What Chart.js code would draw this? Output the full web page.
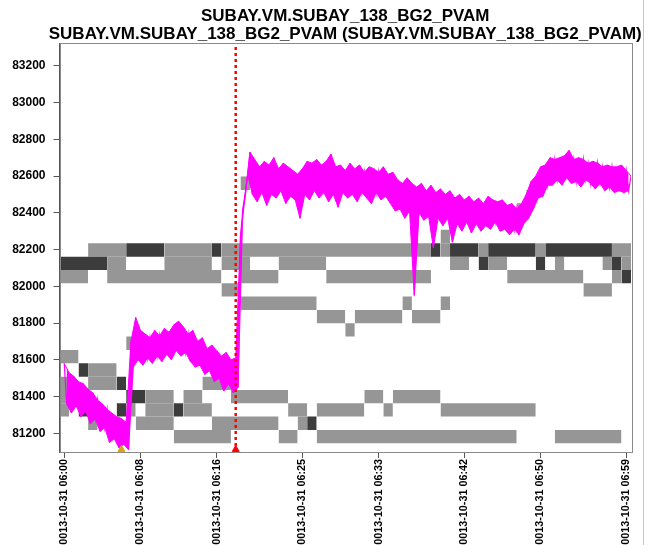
<!DOCTYPE html>
<html>
<head>
<meta charset="utf-8">
<script src="https://cdn.jsdelivr.net/npm/chart.js@4.4.0/dist/chart.umd.min.js"></script>
<style>
  html, body { margin: 0; padding: 0; background: #fff; overflow: hidden; }
  #wrap { width: 653px; height: 545px; overflow: hidden; }
  canvas { display: block; }
</style>
</head>
<body>
<div id="wrap"><canvas id="chart-trace" width="653" height="560"></canvas></div>
<script>
const titleLines = [
    'SUBAY.VM.SUBAY_138_BG2_PVAM',
    'SUBAY.VM.SUBAY_138_BG2_PVAM (SUBAY.VM.SUBAY_138_BG2_PVAM)'
];

// x is minutes after 06:00
const xTickMinutes = [0, 8, 16, 25, 33, 42, 50, 59];
const xTickLabels = [
    '0013-10-31 06:00', '0013-10-31 06:08', '0013-10-31 06:16', '0013-10-31 06:25',
    '0013-10-31 06:33', '0013-10-31 06:42', '0013-10-31 06:50', '0013-10-31 06:59'
];
const yTicks = [81200, 81400, 81600, 81800, 82000, 82200, 82400, 82600, 82800, 83000, 83200];
const yMin = 81098;
const yMax = 83324;

// PVAM trace, one reading every 15 seconds (peaks and troughs of the noise alternate)
const traceStart = 0;
const traceStep = 0.25;
const traceValues = [
    81580, 81360, 81530, 81310, 81510, 81350, 81480, 81290,
    81470, 81320, 81440, 81250, 81420, 81280, 81380, 81210,
    81360, 81230, 81330, 81150, 81310, 81170, 81290, 81120,
    81280, 81140, 81260, 81110,
    81700, 81560, 81830, 81600, 81760, 81570, 81740, 81610,
    81720, 81580, 81760, 81620, 81730, 81590, 81770, 81630,
    81750, 81600, 81790, 81650, 81810, 81620, 81780, 81640,
    81740, 81590, 81760, 81560, 81700, 81570, 81720, 81520,
    81660, 81540, 81680, 81480, 81650, 81500, 81620, 81430,
    81640, 81470, 81600, 81420, 81610, 81450,
    82270, 82420, 82490, 82610, 82730, 82500,
    82690, 82460, 82650, 82510, 82680, 82440, 82660, 82500,
    82700, 82480, 82640, 82520, 82670, 82450, 82650, 82490,
    82630, 82470, 82610, 82370, 82640, 82500, 82680, 82470,
    82670, 82520, 82690, 82480, 82660, 82510, 82680, 82460,
    82720, 82500, 82650, 82430, 82660, 82510, 82630, 82480,
    82670, 82500, 82640, 82460, 82660, 82510, 82620, 82480,
    82650, 82450, 82640, 82510, 82620, 82470, 82650, 82490,
    82610, 82450, 82620, 82410, 82580, 82420, 82560, 82370,
    82590, 82410, 82560, 81950, 82540, 82400, 82560, 82360,
    82520, 82380, 82550, 82210, 82510, 82370, 82530, 82330,
    82500, 82370, 82520, 82240, 82480, 82340, 82500, 82300,
    82470, 82350, 82490, 82290, 82460, 82340, 82480, 82300,
    82450, 82330, 82490, 82310, 82470, 82350, 82460, 82300,
    82470, 82310, 82440, 82280, 82450, 82310, 82420, 82280,
    82450, 82340, 82500, 82370, 82570, 82420, 82600, 82480,
    82650, 82490, 82660, 82550, 82700, 82550, 82690, 82580,
    82700, 82550, 82710, 82590, 82740, 82560, 82690, 82570,
    82700, 82540, 82690, 82580, 82670, 82560, 82680, 82530,
    82670, 82560, 82650, 82520, 82660, 82540, 82650, 82510,
    82650, 82520, 82660, 82510, 82630, 82520, 82600
];

// value bins of the state map
const binEdges = [
    81146, 81218, 81291, 81363, 81436, 81508, 81581, 81653, 81726, 81799, 81871, 81944,
    82016, 82089, 82161, 82234, 82307, 82379, 82452, 82524, 82597, 82669, 82742
];

// [bin, first minute, last minute]
const greyCells = [
    [14, 3, 6], [14, 11, 15], [14, 17, 38], [14, 40, 40], [14, 44, 44], [14, 50, 50], [14, 58, 59],
    [13, 5, 6], [13, 11, 15], [13, 17, 19], [13, 23, 27], [13, 41, 42], [13, 45, 46], [13, 52, 52], [13, 57, 57], [13, 59, 59],
    [12, 0, 2], [12, 5, 16], [12, 19, 22], [12, 28, 38], [12, 47, 54], [12, 58, 58],
    [11, 17, 18], [11, 55, 57],
    [10, 19, 26], [10, 36, 36], [10, 40, 40],
    [9, 27, 29], [9, 31, 35], [9, 37, 39],
    [8, 30, 30],
    [7, 7, 7],
    [6, 0, 1],
    [5, 3, 5],
    [4, 0, 0], [4, 3, 5], [4, 15, 17],
    [3, 0, 0], [3, 9, 11], [3, 13, 14], [3, 18, 23], [3, 32, 33], [3, 35, 39],
    [2, 0, 0], [2, 7, 7], [2, 9, 11], [2, 13, 15], [2, 24, 25], [2, 27, 31], [2, 34, 34], [2, 40, 49],
    [1, 3, 3], [1, 8, 11], [1, 16, 22], [1, 25, 25],
    [0, 12, 17], [0, 23, 24], [0, 27, 47], [0, 52, 58],
    [15, 40, 40], [17, 48, 48], [18, 49, 49], [19, 19, 19], [19, 50, 50], [20, 51, 51]
];
const darkCells = [
    [14, 7, 10], [14, 16, 16], [14, 39, 39], [14, 41, 43], [14, 45, 49], [14, 51, 57],
    [13, 0, 4], [13, 44, 44], [13, 50, 50], [13, 58, 58],
    [12, 59, 59],
    [5, 2, 2],
    [4, 6, 6],
    [3, 7, 8],
    [2, 2, 2], [2, 6, 6], [2, 12, 12],
    [1, 26, 26]
];

const eventMinute = 18;
const markerMinutes = [6, 18];
const markerValue = 81112;
const markerColors = ['#d9a21b', '#ff0000'];

const fontFamily = "Arial, 'Liberation Sans', Helvetica, sans-serif";
const magenta = '#ff00ff';

function cellDataset([bin, first, last], color) {
    return {
        data: [{ x: first - 0.5, y: binEdges[bin + 1] }, { x: last + 0.5, y: binEdges[bin + 1] }],
        fill: { value: binEdges[bin] },
        backgroundColor: color,
        borderWidth: 0,
        pointRadius: 0,
        order: 3
    };
}

const tracePoints = traceValues.map((v, i) => ({ x: traceStart + i * traceStep, y: v }));
const tracePeaks = tracePoints.filter((p, i) => i % 2 === 0);
const traceTroughs = tracePoints.filter((p, i) => i % 2 === 1);

const datasets = [
    {
        data: [{ x: eventMinute, y: yMin }, { x: eventMinute, y: yMax }],
        borderColor: '#ff0000',
        borderWidth: 2.5,
        borderDash: [3, 3],
        pointRadius: 0,
        fill: false,
        order: 0
    },
    {
        data: markerMinutes.map((m) => ({ x: m, y: markerValue })),
        showLine: false,
        pointStyle: 'triangle',
        pointRadius: 4,
        pointBackgroundColor: markerColors,
        pointBorderColor: markerColors,
        clip: false,
        order: 0
    },
    {
        data: tracePoints,
        borderColor: magenta,
        borderWidth: 1.2,
        pointRadius: 0,
        fill: false,
        order: 1
    },
    {
        data: tracePeaks,
        borderColor: magenta,
        borderWidth: 1,
        pointRadius: 0,
        fill: false,
        order: 2
    },
    {
        data: traceTroughs,
        borderColor: magenta,
        borderWidth: 1,
        backgroundColor: magenta,
        pointRadius: 0,
        fill: '-1',
        order: 2
    },
    ...darkCells.map((c) => cellDataset(c, '#3c3c3c')),
    ...greyCells.map((c) => cellDataset(c, '#969696'))
];

const framePlugin = {
    id: 'frame',
    beforeDraw(chart) {
        const { ctx, width, height } = chart;
        ctx.save();
        ctx.fillStyle = '#fff';
        ctx.fillRect(0, 0, width, height);
        ctx.strokeStyle = '#c8c8c8';
        ctx.beginPath();
        ctx.moveTo(643.5, 0);
        ctx.lineTo(643.5, height);
        ctx.stroke();
        ctx.restore();
    },
    afterDraw(chart) {
        const { ctx, chartArea: a } = chart;
        ctx.save();
        ctx.strokeStyle = '#8a8a8a';
        ctx.lineWidth = 1;
        ctx.strokeRect(Math.round(a.left) + 0.5, Math.round(a.top) + 0.5,
            Math.round(a.right - a.left), Math.round(a.bottom - a.top));
        ctx.fillStyle = '#000';
        ctx.font = 'bold 17px ' + fontFamily;
        ctx.textAlign = 'center';
        ctx.textBaseline = 'alphabetic';
        const cx = (a.left + a.right) / 2;
        ctx.fillText(titleLines[0], cx, 21);
        ctx.fillText(titleLines[1], cx, 39);
        ctx.restore();
    }
};

new Chart(document.getElementById('chart-trace'), {
    type: 'line',
    data: { datasets },
    options: {
        responsive: false,
        animation: false,
        events: [],
        layout: { padding: { top: 43, left: 12, right: 22, bottom: 0 } },
        plugins: { legend: { display: false }, tooltip: { enabled: false } },
        scales: {
            x: {
                type: 'linear',
                min: -0.5,
                max: 59.5,
                afterBuildTicks: (axis) => { axis.ticks = xTickMinutes.map((v) => ({ value: v })); },
                afterFit: (axis) => { axis.height = 108; },
                ticks: {
                    autoSkip: false,
                    minRotation: 90,
                    maxRotation: 90,
                    padding: 1,
                    color: '#000',
                    font: { family: fontFamily, size: 10.8, weight: 'bold' },
                    callback: (v) => xTickLabels[xTickMinutes.indexOf(v)]
                },
                grid: { drawOnChartArea: false, tickLength: 6, color: '#555', tickColor: '#555' },
                border: { color: '#555' }
            },
            y: {
                type: 'linear',
                min: yMin,
                max: yMax,
                afterBuildTicks: (axis) => { axis.ticks = yTicks.map((v) => ({ value: v })); },
                afterFit: (axis) => { axis.width = 47.5; },
                ticks: {
                    padding: 8,
                    color: '#000',
                    font: { family: fontFamily, size: 12, weight: 'bold' },
                    callback: (v) => String(v)
                },
                grid: { drawOnChartArea: false, tickLength: 6, color: '#555', tickColor: '#555' },
                border: { color: '#555' }
            }
        }
    },
    plugins: [framePlugin]
});
</script>
</body>
</html>
